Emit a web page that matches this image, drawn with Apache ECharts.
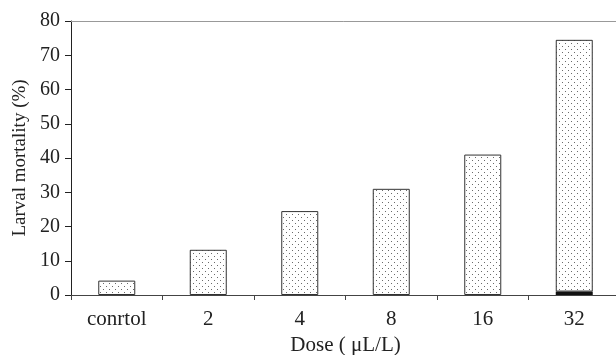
<!DOCTYPE html>
<html>
<head>
<meta charset="utf-8">
<script src="https://cdn.jsdelivr.net/npm/echarts@6/dist/echarts.min.js"></script>
<style>
html, body { margin: 0; padding: 0; background: #fff; }
#chart { width: 616px; height: 355px; }
</style>
</head>
<body>
<div id="chart"></div>
<script>
const doses = ['conrtol', '2', '4', '8', '16', '32'];
const mortality = [4.2, 13.2, 24.5, 31, 41, 74.5];
const blackPart = [0, 0, 0, 0, 0, 1];
const yTicks = [0, 10, 20, 30, 40, 50, 60, 70, 80];

// dotted fill, like the printed figure
const tile = document.createElement('canvas');
tile.width = 6;
tile.height = 6;
{
    const ctx = tile.getContext('2d');
    ctx.fillStyle = '#fff';
    ctx.fillRect(0, 0, 6, 6);
    ctx.fillStyle = '#6a6a6a';
    ctx.fillRect(1, 1, 1, 1);
    ctx.fillRect(4, 4, 1, 1);
}

const serif = '"Liberation Serif", "DejaVu Serif", serif';

const option = {
    animation: false,
    grid: {
        left: 71,
        top: 21,
        bottom: 60,
        right: -4,
        outerBoundsMode: 'none',
        containLabel: false,
    },
    xAxis: [{
        type: 'category',
        data: doses,
        name: 'Dose ( μL/L)',
        nameLocation: 'middle',
        nameGap: 31,
        nameTextStyle: { color: '#222', fontSize: 21, fontFamily: serif },
        axisLine: { lineStyle: { color: '#444', width: 1 } },
        axisTick: { show: true, length: 5, inside: false, lineStyle: { color: '#444' } },
        axisLabel: { color: '#222', fontSize: 21, fontFamily: serif, margin: 14 },
    }, {
        type: 'category',
        data: doses,
        position: 'top',
        axisLine: { lineStyle: { color: '#999', width: 1 } },
        axisTick: { show: false },
        axisLabel: { show: false },
    }],
    yAxis: {
        type: 'value',
        min: 0,
        max: yTicks[yTicks.length - 1],
        interval: yTicks[1] - yTicks[0],
        name: 'Larval mortality (%)',
        nameLocation: 'middle',
        nameGap: 41,
        nameTextStyle: { color: '#222', fontSize: 19, fontFamily: serif },
        axisLine: { show: true, lineStyle: { color: '#222', width: 1 } },
        axisTick: { show: true, length: 6, lineStyle: { color: '#222' } },
        axisLabel: { color: '#222', fontSize: 20, fontFamily: serif, margin: 11 },
        splitLine: { show: false },
    },
    series: [
        {
            name: 'black',
            type: 'bar',
            stack: 'total',
            barWidth: 37,
            data: blackPart.map(v => (v > 0 ? v : '-')),
            itemStyle: { color: '#111', borderWidth: 0 },
        },
        {
            name: 'dotted',
            type: 'bar',
            stack: 'total',
            barWidth: 37,
            data: mortality.map((v, i) => +(v - blackPart[i]).toFixed(2)),
            itemStyle: {
                color: { image: tile, repeat: 'repeat' },
                borderColor: '#333',
                borderWidth: 1,
            },
        },
    ],
};

const chart = echarts.init(document.getElementById('chart'));
chart.setOption(option);
</script>
</body>
</html>
